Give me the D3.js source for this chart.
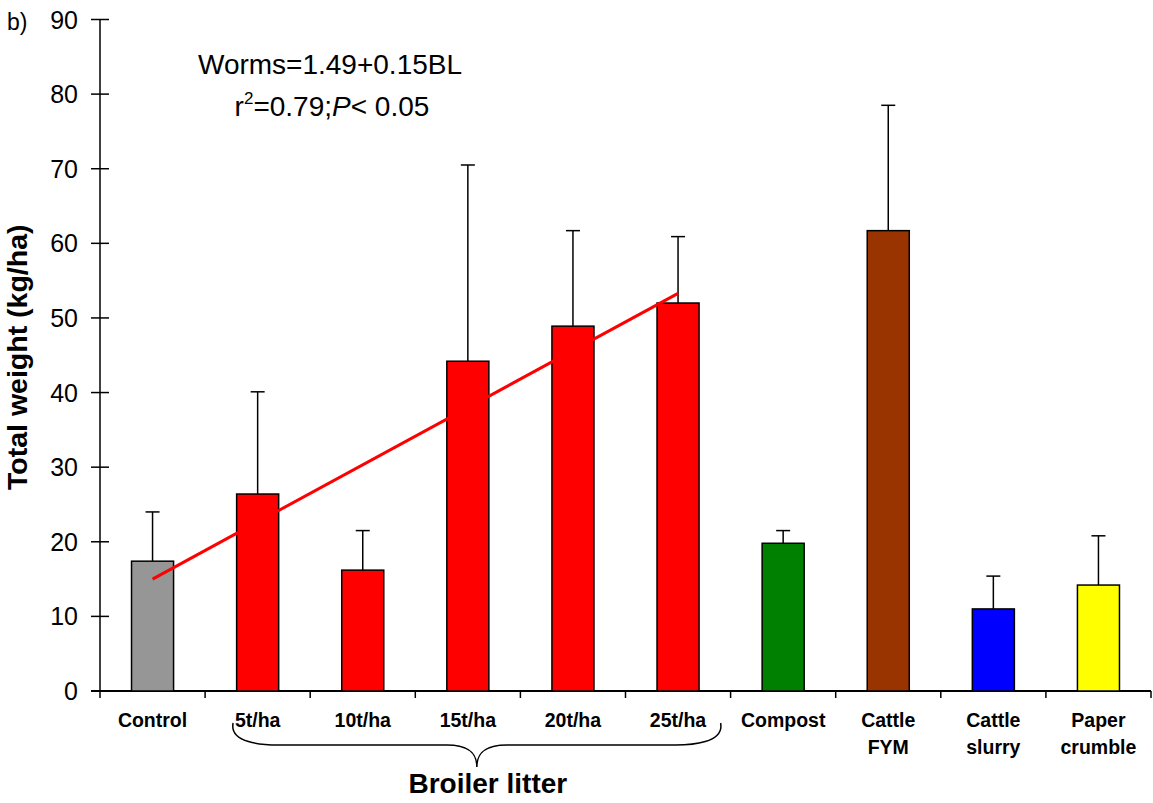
<!DOCTYPE html>
<html>
<head>
<meta charset="utf-8">
<script src="https://cdn.jsdelivr.net/npm/d3@7"></script>
<style>
  html, body { margin: 0; padding: 0; background: #fff; }
  svg { display: block; font-family: "Liberation Sans", Arial, sans-serif; }
</style>
</head>
<body>
<svg id="chart" width="1153" height="803"></svg>
<script>
// Earthworm total weight by soil amendment
const categories = ["Control", "5t/ha", "10t/ha", "15t/ha", "20t/ha", "25t/ha", "Compost", "Cattle\nFYM", "Cattle\nslurry", "Paper\ncrumble"];
const means      = [17.4, 26.4, 16.2, 44.2, 48.9, 52.0, 19.8, 61.7, 11.0, 14.2];
const errUpper   = [24.0, 40.1, 21.5, 70.5, 61.7, 60.9, 21.5, 78.5, 15.4, 20.8];
const barColors  = ["#969696", "#ff0000", "#ff0000", "#ff0000", "#ff0000", "#ff0000", "#008000", "#993300", "#0000ff", "#ffff00"];
const yTicks     = [0, 10, 20, 30, 40, 50, 60, 70, 80, 90];
// Fitted regression over the broiler-litter rates (Control .. 25t/ha)
const trendCats  = ["Control", "25t/ha"];
const trendVals  = [15.0, 53.3];
const broilerSpan = ["5t/ha", "25t/ha"];

(function draw() {
const svg = d3.select("#chart");
const plotL = 100, plotR = 1151, plotT = 19.5, plotB = 691;

const x = d3.scaleBand().domain(categories).range([plotL, plotR]).paddingInner(0).paddingOuter(0);
const y = d3.scaleLinear().domain([0, 90]).range([plotB, plotT]);
const barW = x.bandwidth() * 0.4;
const cx = c => x(c) + x.bandwidth() / 2;

// Y axis: ticks cross the axis line
const yAxis = svg.append("g");
yAxis.append("line").attr("x1", plotL).attr("x2", plotL).attr("y1", y(90)).attr("y2", y(0))
  .attr("stroke", "#000").attr("stroke-width", 1.5);
yAxis.selectAll("line.tick").data(yTicks).join("line").attr("class", "tick")
  .attr("x1", plotL - 9).attr("x2", plotL + 9)
  .attr("y1", d => y(d)).attr("y2", d => y(d))
  .attr("stroke", "#000").attr("stroke-width", 1.5);
yAxis.selectAll("text").data(yTicks).join("text")
  .attr("x", plotL - 22).attr("y", d => y(d)).attr("dy", "0.36em")
  .attr("text-anchor", "end").attr("font-size", 25).text(d => d);

// X axis with ticks between categories
const xAxis = svg.append("g");
xAxis.append("line").attr("x1", plotL - 9).attr("x2", plotR).attr("y1", plotB).attr("y2", plotB)
  .attr("stroke", "#000").attr("stroke-width", 2);
const bounds = categories.map(c => x(c)).concat([plotR]);
xAxis.selectAll("line.tick").data(bounds).join("line").attr("class", "tick")
  .attr("x1", d => d).attr("x2", d => d).attr("y1", plotB).attr("y2", plotB + 7)
  .attr("stroke", "#000").attr("stroke-width", 1.5);

// Category labels (multi-line)
const lab = xAxis.selectAll("text").data(categories).join("text")
  .attr("x", d => cx(d)).attr("y", 727)
  .attr("text-anchor", "middle").attr("font-size", 19.5).attr("font-weight", "bold");
lab.each(function(d) {
  d.split("\n").forEach((line, i) => {
    d3.select(this).append("tspan").attr("x", cx(d)).attr("dy", i === 0 ? 0 : 27).text(line);
  });
});

// Bars
svg.append("g").selectAll("rect").data(categories).join("rect")
  .attr("x", d => cx(d) - barW / 2)
  .attr("y", (d, i) => y(means[i]))
  .attr("width", barW)
  .attr("height", (d, i) => y(0) - y(means[i]))
  .attr("fill", (d, i) => barColors[i])
  .attr("stroke", "#000").attr("stroke-width", 1.5);

// Upper error bars
const eb = svg.append("g").attr("stroke", "#000").attr("stroke-width", 1.5);
eb.selectAll("line.v").data(categories).join("line").attr("class", "v")
  .attr("x1", d => cx(d)).attr("x2", d => cx(d))
  .attr("y1", (d, i) => y(means[i])).attr("y2", (d, i) => y(errUpper[i]));
eb.selectAll("line.cap").data(categories).join("line").attr("class", "cap")
  .attr("x1", d => cx(d) - 7).attr("x2", d => cx(d) + 7)
  .attr("y1", (d, i) => y(errUpper[i])).attr("y2", (d, i) => y(errUpper[i]));

// Regression line
svg.append("path")
  .datum(trendCats.map((c, i) => [cx(c), y(trendVals[i])]))
  .attr("d", d3.line())
  .attr("stroke", "#ff0000").attr("stroke-width", 3).attr("fill", "none");

// Equation
svg.append("text").attr("x", 330).attr("y", 74).attr("text-anchor", "middle")
  .attr("font-size", 28).text("Worms=1.49+0.15BL");
const eq2 = svg.append("text").attr("x", 332).attr("y", 116).attr("text-anchor", "middle").attr("font-size", 28);
eq2.append("tspan").text("r");
eq2.append("tspan").attr("font-size", 17).attr("dy", -12).text("2");
eq2.append("tspan").attr("dy", 12).text("=0.79;");
eq2.append("tspan").attr("font-style", "italic").text("P");
eq2.append("tspan").text("< 0.05");

// Panel label
svg.append("text").attr("x", 7).attr("y", 30).attr("font-size", 23).text("b)");

// Y axis title
svg.append("text")
  .attr("transform", `translate(27, ${(y(0) + y(90)) / 2 + 2}) rotate(-90)`)
  .attr("text-anchor", "middle").attr("font-size", 28.5).attr("font-weight", "bold")
  .text("Total weight (kg/ha)");

// Brace grouping the broiler litter rates
const bx0 = x(broilerSpan[0]) + 28, bx1 = x(broilerSpan[1]) + x.bandwidth() - 10;
const bm = (bx0 + bx1) / 2, by0 = 723, by1 = 745, by2 = 767;
const brace = `M${bx0},${by0} C${bx0 - 4},${by1 - 2} ${bx0 + 30},${by1} ${bx0 + 45},${by1}
  L${bm - 30},${by1} C${bm - 8},${by1} ${bm},${by1 + 8} ${bm},${by2}
  C${bm},${by1 + 8} ${bm + 8},${by1} ${bm + 30},${by1}
  L${bx1 - 45},${by1} C${bx1 - 30},${by1} ${bx1 + 4},${by1 - 2} ${bx1},${by0}`;
svg.append("path").attr("d", brace).attr("fill", "none").attr("stroke", "#000").attr("stroke-width", 1.5);
svg.append("text").attr("x", bm + 11).attr("y", 793).attr("text-anchor", "middle")
  .attr("font-size", 28).attr("font-weight", "bold").text("Broiler litter");
})();
</script>
</body>
</html>
